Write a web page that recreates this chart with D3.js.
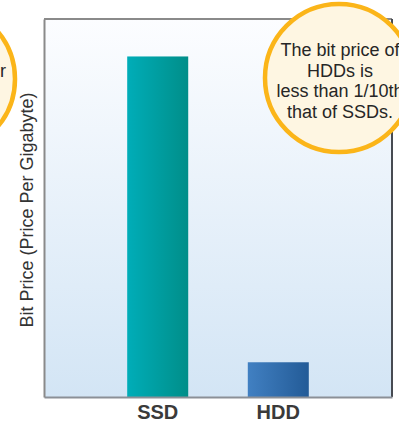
<!DOCTYPE html>
<html>
<head>
<meta charset="utf-8">
<script src="https://cdn.jsdelivr.net/npm/d3@7"></script>
<style>
  body { margin: 0; background: #fff; }
  svg { display: block; font-family: "Liberation Sans", Arial, sans-serif; }
</style>
</head>
<body>
<div class="chart"></div>
<script>
// data
const categories = ['SSD', 'HDD'];
const bitPrice = [100, 10.2];   // relative bit price
const yMax = 111;
const noteRight = ['The bit price of', 'HDDs is', 'less than 1/10th', 'that of SSDs.'];
const noteLeft = ['SSDs are fast,', 'but much pricier', 'per gigabyte', 'than HDDs.'];

const svg_width = 399;
const svg_height = 421;
const margin = {top: 19, right: 7, bottom: 24, left: 44};
const chart_width = svg_width - margin.left - margin.right;
const chart_height = svg_height - margin.top - margin.bottom;

const svg = d3.select('.chart').append('svg')
    .attr('width', svg_width).attr('height', svg_height);

const defs = svg.append('defs');
function gradient(id, x2, y2, stops) {
    const g = defs.append('linearGradient').attr('id', id)
        .attr('x1', 0).attr('y1', 0).attr('x2', x2).attr('y2', y2);
    stops.forEach((c, i) => g.append('stop')
        .attr('offset', i / (stops.length - 1)).attr('stop-color', c));
}
gradient('bg', 0, 1, ['#fcfdff', '#d3e5f5']);
gradient('ssd', 1, 0, ['#00adb8', '#008e89']);
gradient('hdd', 1, 0, ['#4180c2', '#235b97']);

const g = svg.append('g').attr('transform', `translate(${margin.left},${margin.top})`);

// scales
const x = d3.scaleBand().domain(categories)
    .range([0, chart_width])
    .paddingInner(0.494).paddingOuter(0.69);
const y = d3.scaleLinear([0, yMax], [chart_height, 0]);

g.append('rect').attr('width', chart_width).attr('height', chart_height)
    .attr('fill', 'url(#bg)');

// bars
g.selectAll('.bar').data(categories).join('rect')
    .attr('class', 'bar')
    .attr('x', d => x(d))
    .attr('y', (d, i) => y(bitPrice[i]))
    .attr('width', x.bandwidth())
    .attr('height', (d, i) => chart_height - y(bitPrice[i]))
    .attr('fill', d => d === 'SSD' ? 'url(#ssd)' : 'url(#hdd)');

// frame top + right
g.append('line').attr('x1', 0).attr('x2', chart_width).attr('y1', 0).attr('y2', 0)
    .attr('stroke', '#8a8a8a').attr('stroke-width', 2);
g.append('line').attr('x1', chart_width).attr('x2', chart_width).attr('y1', 0).attr('y2', chart_height)
    .attr('stroke', '#474b52').attr('stroke-width', 2);

// axes
const xAxis = d3.axisBottom(x).tickSize(0).tickPadding(8);
const xAxisDraw = g.append('g').attr('transform', `translate(0,${chart_height})`).call(xAxis);
xAxisDraw.select('.domain').attr('stroke', '#8b9097').attr('stroke-width', 2);
xAxisDraw.selectAll('text')
    .attr('font-size', 20).attr('font-weight', 'bold').attr('fill', '#3a3a3a')
    .attr('font-family', '"Liberation Sans", Arial, sans-serif');

const yAxis = d3.axisLeft(y).ticks(0).tickSizeOuter(0);
const yAxisDraw = g.append('g').call(yAxis);
yAxisDraw.select('.domain').attr('stroke', '#8a8a8a').attr('stroke-width', 2);

svg.append('text')
    .attr('transform', 'translate(33,210) rotate(-90)')
    .attr('text-anchor', 'middle')
    .attr('font-size', 18).attr('fill', '#333')
    .text('Bit Price (Price Per Gigabyte)');

// callout bubbles
function bubble(cx, cy, lines) {
    const b = svg.append('g');
    b.append('circle').attr('cx', cx).attr('cy', cy).attr('r', 74)
        .attr('fill', '#fef6e2').attr('stroke', '#fbb519').attr('stroke-width', 4.5);
    b.selectAll('text').data(lines).join('text')
        .attr('x', cx + 1).attr('y', (d, i) => 56 + i * 20.5)
        .attr('text-anchor', 'middle')
        .attr('font-size', 18).attr('fill', '#262626')
        .text(d => d);
}
bubble(-59, 79, noteLeft);
bubble(339, 78, noteRight);
</script>
</body>
</html>
